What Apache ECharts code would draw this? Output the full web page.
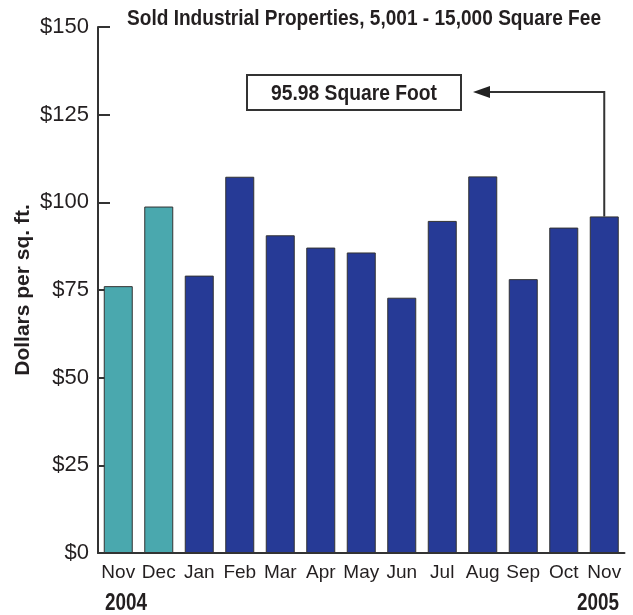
<!DOCTYPE html>
<html>
<head>
<meta charset="utf-8">
<script src="https://cdn.jsdelivr.net/npm/echarts@6/dist/echarts.min.js"></script>
<style>
  html, body { margin: 0; padding: 0; background: #fff; }
  #chart { width: 633px; height: 615px; }
</style>
</head>
<body>
<div id="chart"></div>
<script>
// Data
var months = ['Nov', 'Dec', 'Jan', 'Feb', 'Mar', 'Apr', 'May', 'Jun', 'Jul', 'Aug', 'Sep', 'Oct', 'Nov'];
var prices = [76.1, 98.8, 79.1, 107.3, 90.6, 87.1, 85.7, 72.8, 94.7, 107.4, 78.1, 92.8, 95.98];
var yearMarks = ['2004', '2005'];
var yTicks = [0, 25, 50, 75, 100, 125, 150];
var titleText = 'Sold Industrial Properties, 5,001 - 15,000 Square Fee';
var calloutText = '95.98 Square Foot';

var FONT = "'Liberation Sans', Arial, sans-serif";
var TEAL = '#4aa8ae';
var NAVY = '#263a96';
var INK = '#231f20';

// the original uses a condensed face; squash regular text to the width it had
var measureCtx = document.createElement('canvas').getContext('2d');
function squash(text, font, targetWidth) {
    measureCtx.font = font;
    return targetWidth / measureCtx.measureText(text).width;
}

var chart = echarts.init(document.getElementById('chart'), null, { renderer: 'canvas' });

// first two months (2004) are teal, the rest navy
var barData = prices.map(function (v, i) {
    return { value: v, itemStyle: { color: i < 2 ? TEAL : NAVY } };
});

var option = {
    animation: false,
    backgroundColor: '#fff',
    textStyle: { fontFamily: FONT },
    grid: { left: 98, right: 8.5, top: 27, bottom: 62 },
    xAxis: {
        type: 'category',
        data: months,
        axisLine: { show: true, lineStyle: { color: '#333', width: 2 } },
        axisTick: { show: false },
        axisLabel: { fontFamily: FONT, fontSize: 19, color: INK, margin: 10, interval: 0 }
    },
    yAxis: {
        type: 'value',
        min: 0,
        max: 150,
        interval: 25,
        name: 'Dollars per sq. ft.',
        nameLocation: 'middle',
        nameGap: 64,
        nameMoveOverlap: false,
        nameTextStyle: { fontFamily: FONT, fontWeight: 'bold', fontSize: 21, color: INK },
        splitLine: { show: false },
        axisLine: { show: true, lineStyle: { color: '#333', width: 2 } },
        axisTick: { show: true, inside: true, length: 12, lineStyle: { color: '#333', width: 2 } },
        axisLabel: {
            fontFamily: FONT, fontSize: 22, color: INK, margin: 9,
            formatter: function (v) { return yTicks.indexOf(v) >= 0 ? '$' + v : ''; }
        }
    },
    series: [{
        type: 'bar',
        data: barData,
        barWidth: 29,
        itemStyle: { borderColor: '#333', borderWidth: 1 }
    }]
};

chart.setOption(option);

// callout: arrow from the last bar's top to the label box
var lastIdx = prices.length - 1;
var barTop = chart.convertToPixel({ seriesIndex: 0 }, [lastIdx, prices[lastIdx]]);
var lineY = 92;
var boxX = 247, boxY = 75, boxW = 214, boxH = 35;
var tipX = boxX + boxW + 12;

var titleFont = 'bold 22px ' + FONT;
var calloutFont = 'bold 22px ' + FONT;
var yearFont = 'bold 23px ' + FONT;

chart.setOption({
    graphic: [
        {
            type: 'text',
            x: 127, y: 19,
            scaleX: squash(titleText, titleFont, 474),
            style: { text: titleText, fill: INK, font: titleFont, align: 'left', verticalAlign: 'middle' }
        },
        {
            type: 'rect',
            shape: { x: boxX, y: boxY, width: boxW, height: boxH },
            style: { fill: '#fff', stroke: '#333', lineWidth: 2 }
        },
        {
            type: 'text',
            x: boxX + boxW / 2,
            y: boxY + boxH / 2 + 1,
            scaleX: squash(calloutText, calloutFont, 166),
            style: {
                text: calloutText, fill: INK, align: 'center', verticalAlign: 'middle',
                font: calloutFont
            }
        },
        {
            type: 'polyline',
            shape: { points: [[barTop[0], barTop[1]], [barTop[0], lineY], [tipX + 14, lineY]] },
            style: { stroke: '#333', lineWidth: 2, fill: null }
        },
        {
            type: 'polygon',
            shape: { points: [[tipX, lineY], [tipX + 17, lineY - 6], [tipX + 17, lineY + 6]] },
            style: { fill: '#222' }
        },
        {
            type: 'text',
            x: 105, y: 604,
            scaleX: squash(yearMarks[0], yearFont, 42),
            style: { text: yearMarks[0], fill: INK, font: yearFont, align: 'left', verticalAlign: 'middle' }
        },
        {
            type: 'text',
            x: 619, y: 604,
            scaleX: squash(yearMarks[1], yearFont, 42),
            style: { text: yearMarks[1], fill: INK, font: yearFont, align: 'right', verticalAlign: 'middle' }
        }
    ]
});
</script>
</body>
</html>
